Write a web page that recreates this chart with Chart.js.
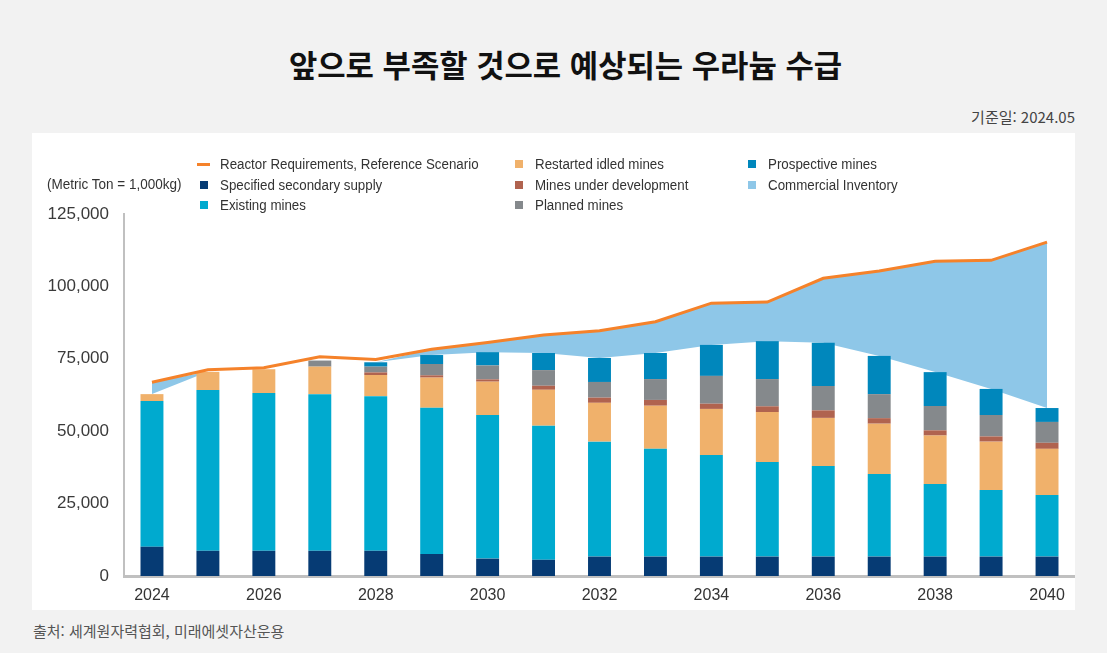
<!DOCTYPE html>
<html lang="ko">
<head>
<meta charset="utf-8">
<script src="https://cdn.jsdelivr.net/npm/chart.js@4"></script>
<style>
  body {
    margin: 0;
    width: 1107px;
    height: 653px;
    background: #f2f2f2;
    position: relative;
    overflow: hidden;
    font-family: "Noto Sans CJK KR", sans-serif;
  }
  #title {
    position: absolute; left: 12px; top: 41px; width: 1107px;
    text-align: center; font-size: 30.8px; font-weight: 700; color: #111;
  }
  #asof {
    position: absolute; right: 32px; top: 106px;
    font-size: 15px; color: #444;
  }
  #panel {
    position: absolute; left: 32px; top: 133px; width: 1043px; height: 477px;
    background: #fff;
  }
  #chart { position: absolute; left: 0; top: 0; }
  .narrow {
    display: inline-block; transform-origin: 0 50%; white-space: nowrap;
    font-family: "Liberation Sans", sans-serif; color: #333;
  }
  #unit {
    position: absolute; left: 15px; top: 42px; font-size: 15px;
    transform: scaleX(0.9);
  }
  .item { position: absolute; height: 20px; line-height: 20px; white-space: nowrap; }
  .item .narrow { font-size: 15.5px; transform: scaleX(0.86); vertical-align: top; }
  .mark { display: inline-block; width: 14px; height: 20px; position: relative; vertical-align: top; margin-right: 9px; }
  .mark i { position: absolute; }
  #source {
    position: absolute; left: 33px; top: 620px;
    font-size: 15px; color: #555;
  }
</style>
</head>
<body>
<div id="title">앞으로 부족할 것으로 예상되는 우라늄 수급</div>
<div id="asof">기준일: 2024.05</div>
<div id="panel">
  <canvas id="chart" width="1043" height="477"></canvas>
  <div id="unit" class="narrow">(Metric Ton = 1,000kg)</div>
</div>
<div id="source">출처: 세계원자력협회, 미래에셋자산운용</div>

<script>
const years = ['2024', '2025', '2026', '2027', '2028', '2029', '2030', '2031', '2032',
    '2033', '2034', '2035', '2036', '2037', '2038', '2039', '2040'];

const reactorRequirements = [66900, 71200, 71900, 75700, 74800, 78300, 80600, 83200, 84700,
    87800, 94200, 94600, 102800, 105300, 108700, 109000, 115300];
const secondarySupply = [10100, 8700, 8700, 8700, 8700, 7600, 6000, 5600, 6700,
    6700, 6700, 6700, 6700, 6700, 6700, 6700, 6700];
const existingMines = [50300, 55500, 54500, 54100, 53400, 50500, 49600, 46300, 39700,
    37200, 35100, 32700, 31300, 28500, 25100, 23000, 21300];
const restartedMines = [2400, 6300, 8200, 9500, 7300, 10400, 11500, 12400, 13400,
    14900, 15900, 17200, 16600, 17400, 16700, 16700, 15900];
const developmentMines = [0, 0, 0, 0, 900, 800, 800, 1400, 1800,
    2000, 1800, 2000, 2600, 1900, 1800, 1800, 2100];
const plannedMines = [0, 0, 0, 2100, 2000, 3900, 4800, 5400, 5400,
    7200, 9600, 9400, 8400, 8300, 8400, 7400, 7200];
const prospectiveMines = [0, 0, 0, 0, 1500, 3100, 4600, 5900, 8300,
    9000, 10700, 13100, 14900, 13200, 11700, 9000, 4800];
const commercialInventory = [4100, 0, 0, 0, 0, 2000, 3300, 6200, 9400,
    10800, 14400, 13500, 22300, 29300, 38300, 44400, 57300];
// zero line stacked on the bars, the inventory area fills down to it
const supplyTop = [0, 0, 0, 0, 0, 0, 0, 0, 0, 0, 0, 0, 0, 0, 0, 0, 0];

const ORANGE = '#f5822a';
const barStyle = (label, data, color) => ({
    type: 'bar',
    label,
    data,
    backgroundColor: color,
    stack: 'supply',
    barPercentage: 0.41,
    categoryPercentage: 1,
});

const datasets = [
    {
        type: 'line',
        label: 'Reactor Requirements, Reference Scenario',
        data: reactorRequirements,
        borderColor: ORANGE,
        borderWidth: 3,
        pointRadius: 0,
        fill: false,
        stack: 'req',
    },
    barStyle('Specified secondary supply', secondarySupply, '#063b74'),
    barStyle('Existing mines', existingMines, '#00aacf'),
    barStyle('Restarted idled mines', restartedMines, '#f0b16b'),
    barStyle('Mines under development', developmentMines, '#b0634f'),
    barStyle('Planned mines', plannedMines, '#85898c'),
    barStyle('Prospective mines', prospectiveMines, '#0087bc'),
    {
        type: 'line',
        label: '',
        data: supplyTop,
        borderWidth: 0,
        pointRadius: 0,
        fill: false,
        stack: 'supply',
    },
    {
        type: 'line',
        label: 'Commercial Inventory',
        data: commercialInventory,
        backgroundColor: '#8ec7e8',
        borderColor: '#8ec7e8',
        borderWidth: 0,
        pointRadius: 0,
        fill: '-1',
        stack: 'supply',
    },
];

new Chart('chart', {
    data: { labels: years, datasets },
    options: {
        responsive: false,
        animation: false,
        layout: { padding: { top: 81, right: 0, bottom: 0, left: 0 } },
        plugins: {
            legend: { display: false },
            tooltip: { enabled: false },
        },
        scales: {
            x: {
                stacked: true,
                afterFit: (s) => { s.height = 34; },
                border: { display: true, color: '#c0c0c0', width: 3 },
                grid: { display: false, drawTicks: false },
                ticks: {
                    padding: 10,
                    autoSkip: false,
                    maxRotation: 0,
                    color: '#333',
                    font: { family: '"Liberation Sans"', size: 16 },
                    callback: (v, i) => (i % 2 === 0 ? years[i] : ''),
                },
            },
            y: {
                stacked: true,
                min: 0,
                max: 125000,
                afterFit: (s) => { s.width = 92; },
                border: { display: true, color: '#c0c0c0', width: 2 },
                grid: { display: false, drawTicks: false },
                ticks: {
                    stepSize: 25000,
                    padding: 15,
                    color: '#3a3a3a',
                    font: { family: '"Liberation Sans"', size: 17 },
                    callback: (v) => v.toLocaleString('en-US'),
                },
            },
        },
    },
});

// legend in three columns, as in the original
const legendCols = [
    ['Reactor Requirements, Reference Scenario', 'Specified secondary supply', 'Existing mines'],
    ['Restarted idled mines', 'Mines under development', 'Planned mines'],
    ['Prospective mines', 'Commercial Inventory'],
];
const colLeft = [165, 480, 713];
const rowTop = [21, 42, 62];
const panel = document.getElementById('panel');
legendCols.forEach((col, c) => {
    col.forEach((label, r) => {
        const ds = datasets.find((d) => d.label === label);
        const item = document.createElement('div');
        item.className = 'item';
        item.style.left = colLeft[c] + 'px';
        item.style.top = rowTop[r] + 'px';
        const mark = document.createElement('span');
        mark.className = 'mark';
        const sw = document.createElement('i');
        if (ds.stack === 'req') {
            sw.style.cssText = `left:0;top:9px;width:13px;height:3px;background:${ds.borderColor}`;
        } else {
            sw.style.cssText = `left:3px;top:6px;width:8px;height:8px;background:${ds.backgroundColor}`;
        }
        mark.appendChild(sw);
        const text = document.createElement('span');
        text.className = 'narrow';
        text.textContent = label;
        item.appendChild(mark);
        item.appendChild(text);
        panel.appendChild(item);
    });
});
</script>
</body>
</html>
